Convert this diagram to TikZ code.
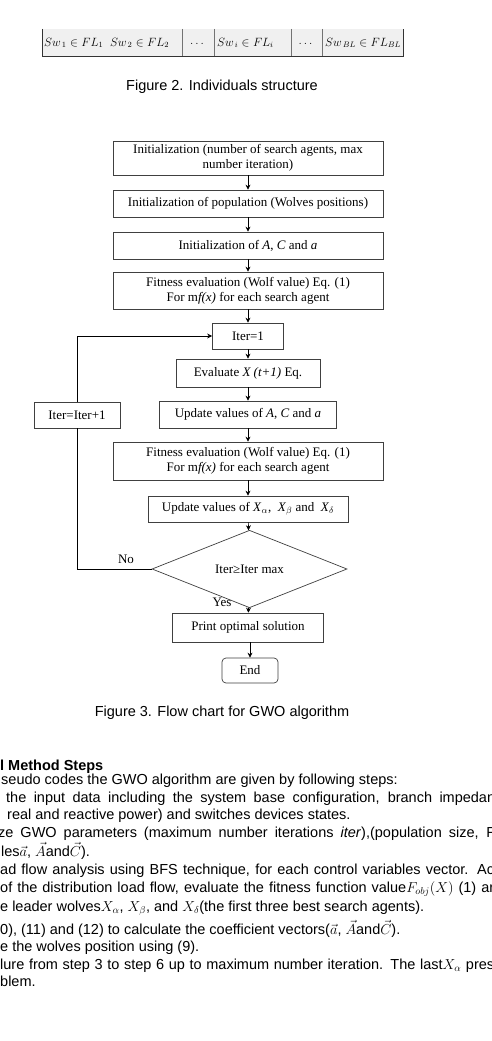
\documentclass[tikz,border=0pt]{standalone}
\usepackage{amsmath, amssymb}
\usepackage{fontspec}
\setmainfont{Liberation Serif}
\newfontfamily\capfont{Liberation Sans}
\usetikzlibrary{shapes.geometric, arrows.meta}

\begin{document}
\begin{tikzpicture}
  [x=1pt, y=-1pt,
   box/.style={draw=black!75, line width=.7pt, inner sep=1pt, align=center,
     minimum width=270pt, minimum height=27pt, font=\fontsize{13}{15}\selectfont},
   test/.style={diamond, draw=black!75, line width=.7pt, inner sep=0pt,
     minimum width=195pt, minimum height=62pt, font=\fontsize{13}{15}\selectfont},
   lbl/.style={inner sep=0pt, font=\fontsize{13}{15}\selectfont},
   figcap/.style={font=\capfont\fontsize{14.5}{17}\selectfont},
   txt/.style={anchor=base west, inner sep=0pt, font=\capfont\fontsize{14.5}{17}\selectfont},
   cell/.style={anchor=west, inner sep=0pt, font=\fontsize{12}{14}\selectfont},
   flow/.style={-{Stealth[length=5pt, width=5pt]}, line width=.7pt}]
  \useasboundingbox (0,0) rectangle (492,1041);
  \fill[white] (0,0) rectangle (492,1041);
  \clip (0,0) rectangle (492,1041);

  \fill[black!6] (42,29) rectangle (403,56);
  \draw[black!80, line width=.8pt] (42,29) -- (42,56) -- (403,56) -- (403,29);
  \foreach \x in {182,214,291,322}
    \draw[black!55, line width=.8pt] (\x,29) -- (\x,56);
  \node[cell] (sw1) at (44,43) {$Sw_{\,1}\in FL_1\;\; Sw_{\,2}\in FL_2$};
  \node[cell, anchor=center] (dots1) at (198,44) {$\dots$};
  \node[cell] (swi) at (217,43) {$Sw_{\,i}\in FL_i$};
  \node[cell, anchor=center] (dots2) at (306.5,44) {$\dots$};
  \node[cell] (swbl) at (325,43) {$Sw_{\,BL}\in FL_{BL}$};
  \node[figcap] (fig2) at (222,87) {Figure 2. Individuals structure};

  \node[box, minimum height=34pt] (init) at (248,158)
    {Initialization (number of search agents, max\\ number iteration)};
  \node[box] (pop) at (248,203.5) {Initialization of population (Wolves positions)};
  \node[box] (initA) at (248,245.5) {Initialization of \textit{A}, \textit{C} and \textit{a}};
  \node[box, minimum height=37pt] (fit1) at (248,290.5)
    {Fitness evaluation (Wolf value) Eq. (1)\\ For m\textit{f(x)} for each search agent};
  \node[box, minimum width=71pt, minimum height=26pt] (iter1) at (248,336) {Iter=1};
  \node[box, minimum width=144pt, minimum height=28pt] (eval) at (248,373)
    {Evaluate \textit{X (t+1)} Eq.};
  \node[box, minimum width=177pt] (upd) at (248,414.5)
    {Update values of \textit{A}, \textit{C} and \textit{a}};
  \node[box, minimum width=86pt, minimum height=26pt] (incr) at (77,415) {Iter=Iter+1};
  \node[box, minimum height=38pt] (fit2) at (248,461)
    {Fitness evaluation (Wolf value) Eq. (1)\\ For m\textit{f(x)} for each search agent};
  \node[box, minimum width=200pt, minimum height=26pt] (updX) at (248,509)
    {Update values of \textit{X}$_\alpha$, \ \textit{X}$_\beta$ and \ \textit{X}$_\delta$};
  \node[test] (stop) at (249.5,569) {Iter≥Iter max};
  \node[box, minimum width=151pt, minimum height=29pt] (print) at (248,627.5)
    {Print optimal solution};
  \node[box, rounded corners=4pt, minimum width=56pt, minimum height=25pt] (end) at (250,670.5) {End};
  \node[lbl] (no) at (126,559) {No};
  \node[lbl] (yes) at (222,602) {Yes};

  \draw[flow] (init) -- (pop);
  \draw[flow] (pop) -- (initA);
  \draw[flow] (initA) -- (fit1);
  \draw[flow] (fit1) -- (iter1);
  \draw[flow] (iter1) -- (eval);
  \draw[flow] (eval) -- (upd);
  \draw[flow] (upd) -- (fit2);
  \draw[flow] (fit2) -- (updX);
  \draw[flow] (updX) -- (stop);
  \draw[flow] (stop) -- (print);
  \draw[flow] (print.south -| end.north) -- (end);
  \draw[line width=.7pt] (stop.west) -| (incr.south);
  \draw[flow] (incr.north) |- (iter1.west);

  \node[figcap] (fig3) at (222,713) {Figure 3. Flow chart for GWO algorithm};

  \node[txt, font=\capfont\bfseries\fontsize{14.5}{17}\selectfont] (head) at (0,770) {l Method Steps};
  \node[txt] (l1) at (1,784) {seudo codes the GWO algorithm are given by following steps:};
  \node[txt] (l2) at (6,802) {\makebox[489pt][s]{the input data including the system base configuration, branch impedan}};
  \node[txt] (l3) at (7,819) {real and reactive power) and switches devices states.};
  \node[txt] (l4) at (-2,837) {\makebox[497pt][s]{ze GWO parameters (maximum number iterations \textit{iter}),(population size, F}};
  \node[txt] (l5) at (1,856) {les$\vec{a}$, $\vec{A}$and$\vec{C}$).};
  \node[txt] (l6) at (0,874) {\makebox[494pt][s]{ad flow analysis using BFS technique, for each control variables vector. Ac}};
  \node[txt] (l7) at (0,892) {\makebox[494pt][s]{of the distribution load flow, evaluate the fitness function value$F_{obj}(X)$ (1) ar}};
  \node[txt] (l8) at (0,911) {e leader wolves$X_\alpha$, $X_\beta$, and $X_\delta$(the first three best search agents).};
  \node[txt] (l9) at (0,934) {0), (11) and (12) to calculate the coefficient vectors($\vec{a}$, $\vec{A}$and$\vec{C}$).};
  \node[txt] (l10) at (0,951) {e the wolves position using (9).};
  \node[txt] (l11) at (0,969) {\makebox[494pt][s]{lure from step 3 to step 6 up to maximum number iteration. The last$X_\alpha$ pres}};
  \node[txt] (l12) at (0,986) {blem.};
\end{tikzpicture}
\end{document}
